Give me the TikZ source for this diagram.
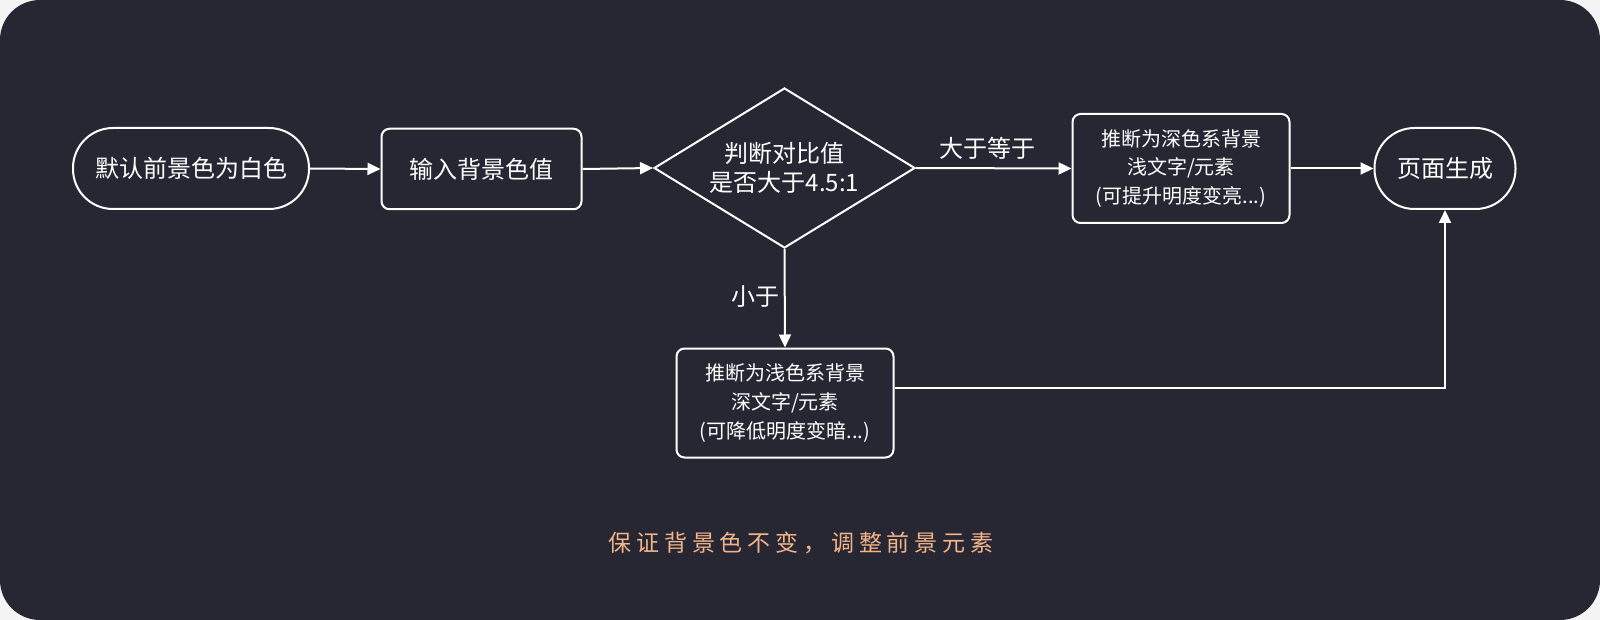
\documentclass[tikz,border=0pt]{standalone}
\usepackage{fontspec}
\newfontfamily\cjk{Noto Sans CJK SC}
\newfontfamily\cjksp[LetterSpace=21]{Noto Sans CJK SC}
\usetikzlibrary{shapes.geometric,arrows.meta}
\definecolor{bgdark}{HTML}{262733}
\definecolor{bgout}{HTML}{F4F4F4}
\definecolor{peach}{HTML}{F2B48A}
\begin{document}
\begin{tikzpicture}[x=1pt,y=-1pt,
  base/.style={draw=white, line width=2pt, text=white, align=center, inner sep=0pt,
    font=\cjk\fontsize{24}{29}\selectfont},
  pill/.style={base, rounded corners=40pt, minimum height=81pt},
  stepbox/.style={base, rounded corners=8pt},
  small/.style={font=\cjk\fontsize{20}{28.6}\selectfont},
  lbl/.style={text=white, font=\cjk\fontsize{24}{29}\selectfont, inner sep=0pt},
  conn/.style={draw=white, line width=2pt, -{Triangle[length=13pt,width=12pt]}}
]
\fill[bgout] (0,0) rectangle (1600,620);
\fill[bgdark, rounded corners=40pt] (0,0) rectangle (1600,620);
\useasboundingbox (0,0) rectangle (1600,620);

\node[pill, minimum width=236pt] (start) at (191,168.5) {默认前景色为白色};
\node[stepbox, minimum width=200pt, minimum height=80.5pt] (input) at (481.5,169) {输入背景色值};
\node[base, diamond, aspect=1.63, minimum width=261pt, minimum height=160pt] (dia) at (784.5,168) {判断对比值\\是否大于4.5:1};
\node[stepbox, small, minimum width=217pt, minimum height=109pt] (dark) at (1181,168.5) {推断为深色系背景\\浅文字/元素\\(可提升明度变亮...)};
\node[pill, minimum width=141pt] (done) at (1445,168.5) {页面生成};
\node[stepbox, small, minimum width=217pt, minimum height=109pt] (light) at (785,403) {推断为浅色系背景\\深文字/元素\\(可降低明度变暗...)};

\node[text=peach, inner sep=0pt, font=\cjksp\fontsize{23}{26}\selectfont] (note) at (801,543) {保证背景色不变，调整前景元素};

\draw[conn] (start.east) -- (input.west);
\draw[conn] (input.east) -- (dia.west);
\draw[conn] (dia.east) -- node[lbl, pos=0.46, above=8pt] {大于等于} (dark.west);
\draw[conn] (dia.south) -- node[lbl, pos=0.48, left=4pt] {小于} (light.north);
\draw[conn] (dark.east) -- (done.west);
\draw[conn] ([yshift=15pt]light.east) -| (done.south);
\end{tikzpicture}
\end{document}
